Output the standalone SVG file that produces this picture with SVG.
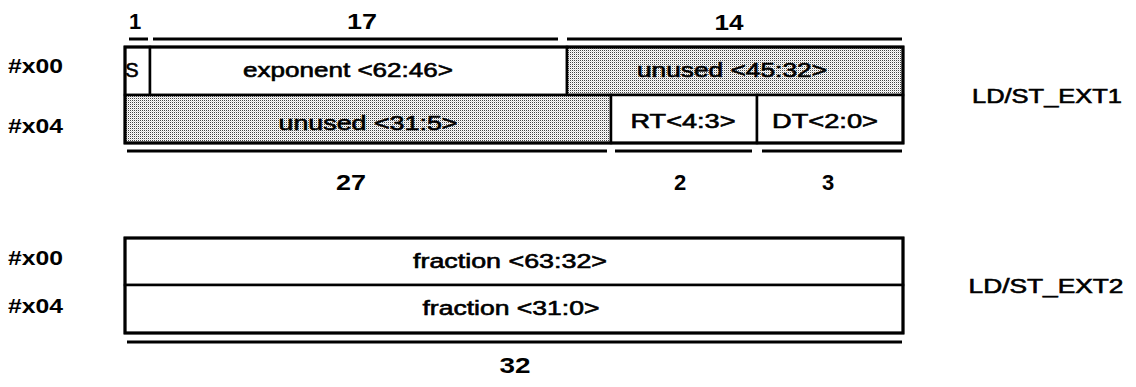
<svg xmlns="http://www.w3.org/2000/svg" width="1136" height="387" viewBox="0 0 1136 387">
<defs>
<pattern id="stipple" width="2" height="2" patternUnits="userSpaceOnUse">
<rect width="2" height="2" fill="#fff"/>
<rect x="0" y="0" width="1" height="1" fill="#444"/>
<rect x="1" y="1" width="1" height="1" fill="#d8d8d8"/>
</pattern>
</defs>
<style>
.cell{fill:#fff;stroke:#000;stroke-width:2.5}
.shade{fill:url(#stipple);stroke:#000;stroke-width:2.5}
.frame{fill:none;stroke:#000;stroke-width:3}
.lbl{font-family:"Liberation Sans",Arial,sans-serif;font-size:20px;fill:#000;stroke:#000;stroke-width:0.6;text-anchor:middle}
.num{font-family:"Liberation Sans",Arial,sans-serif;font-size:22px;font-weight:bold;fill:#000;text-anchor:middle}
.addr{font-family:"Liberation Sans",Arial,sans-serif;font-size:21px;font-weight:bold;fill:#000}
.dim{stroke:#000;stroke-width:3;fill:none}
</style>

<g id="addr-labels">
<text class="addr" x="8" y="73" textLength="55" lengthAdjust="spacingAndGlyphs">#x00</text>
<text class="addr" x="8" y="133" textLength="55" lengthAdjust="spacingAndGlyphs">#x04</text>
<text class="addr" x="8" y="265" textLength="55" lengthAdjust="spacingAndGlyphs">#x00</text>
<text class="addr" x="8" y="313" textLength="55" lengthAdjust="spacingAndGlyphs">#x04</text>
</g>

<g id="ext1">
<g id="field-s">
<rect class="cell" x="125" y="47" width="25" height="48"/>
<text class="lbl" x="132" y="77">S</text>
</g>
<g id="field-exponent">
<rect class="cell" x="150" y="47" width="417" height="48"/>
<text class="lbl" x="348" y="77" textLength="210" lengthAdjust="spacingAndGlyphs">exponent &lt;62:46&gt;</text>
</g>
<g id="field-unused-45-32">
<rect class="shade" x="567" y="47" width="336" height="48"/>
<text class="lbl" x="732" y="77" textLength="190" lengthAdjust="spacingAndGlyphs">unused &lt;45:32&gt;</text>
</g>
<g id="field-unused-31-5">
<rect class="shade" x="125" y="95" width="486" height="48"/>
<text class="lbl" x="368" y="130" textLength="179" lengthAdjust="spacingAndGlyphs">unused &lt;31:5&gt;</text>
</g>
<g id="field-rt">
<rect class="cell" x="611" y="95" width="146" height="48"/>
<text class="lbl" x="683" y="128" textLength="105" lengthAdjust="spacingAndGlyphs">RT&lt;4:3&gt;</text>
</g>
<g id="field-dt">
<rect class="cell" x="757" y="95" width="146" height="48"/>
<text class="lbl" x="825" y="128" textLength="106" lengthAdjust="spacingAndGlyphs">DT&lt;2:0&gt;</text>
</g>
<rect class="frame" x="125" y="47" width="778" height="96"/>
<text class="lbl" x="1047" y="103" textLength="150" lengthAdjust="spacingAndGlyphs">LD/ST_EXT1</text>
</g>

<g id="ext2">
<g id="field-fraction-hi">
<rect class="cell" x="125" y="238" width="778" height="47"/>
<text class="lbl" x="510" y="268" textLength="194" lengthAdjust="spacingAndGlyphs">fraction &lt;63:32&gt;</text>
</g>
<g id="field-fraction-lo">
<rect class="cell" x="125" y="285" width="778" height="48"/>
<text class="lbl" x="511" y="315" textLength="177" lengthAdjust="spacingAndGlyphs">fraction &lt;31:0&gt;</text>
</g>
<rect class="frame" x="125" y="238" width="778" height="95"/>
<text class="lbl" x="1046" y="293" textLength="155" lengthAdjust="spacingAndGlyphs">LD/ST_EXT2</text>
</g>

<g id="dimensions">
<line class="dim" x1="129" y1="39" x2="148" y2="39"/>
<line class="dim" x1="153" y1="39" x2="558" y2="39"/>
<line class="dim" x1="567" y1="39" x2="902" y2="39"/>
<line class="dim" x1="127" y1="151" x2="607" y2="151"/>
<line class="dim" x1="615" y1="151" x2="752" y2="151"/>
<line class="dim" x1="762" y1="151" x2="902" y2="151"/>
<line class="dim" x1="127" y1="342" x2="902" y2="342"/>
<text class="num" x="135" y="29">1</text>
<text class="num" x="362" y="29" textLength="30" lengthAdjust="spacingAndGlyphs">17</text>
<text class="num" x="729" y="30" textLength="29" lengthAdjust="spacingAndGlyphs">14</text>
<text class="num" x="351" y="190" textLength="30" lengthAdjust="spacingAndGlyphs">27</text>
<text class="num" x="680" y="190">2</text>
<text class="num" x="828" y="190">3</text>
<text class="num" x="515" y="373" textLength="31" lengthAdjust="spacingAndGlyphs">32</text>
</g>
</svg>
